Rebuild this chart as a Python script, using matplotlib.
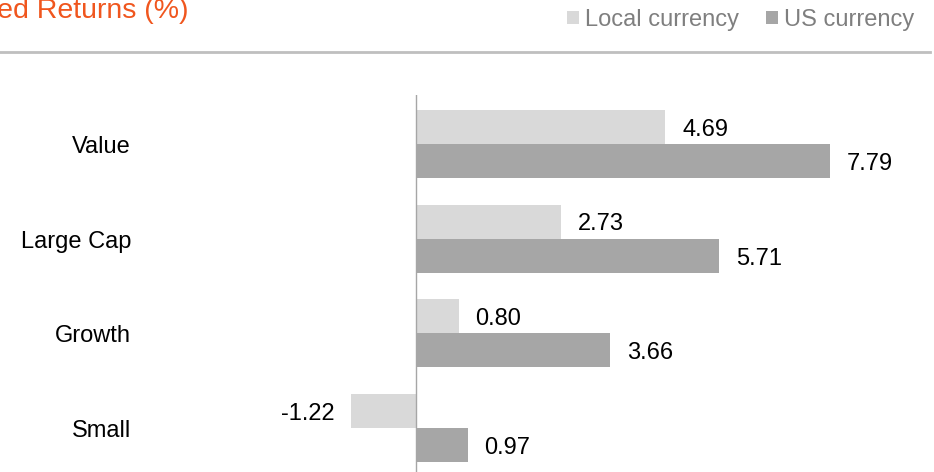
import numpy as np
import matplotlib.pyplot as plt
from matplotlib.lines import Line2D

plt.rcParams['font.family'] = ['Liberation Sans', 'DejaVu Sans']

categories = ['Value', 'Large Cap', 'Growth', 'Small']
local_ccy = [4.69, 2.73, 0.80, -1.22]
us_ccy = [7.79, 5.71, 3.66, 0.97]
series_names = ['Local currency', 'US currency']

W, H = 934, 472
fig = plt.figure(figsize=(W / 100, H / 100), dpi=100)

# axes spans full width, from y=95px down to the bottom
ax = fig.add_axes([0, 0, 1, (H - 95) / H])
px = 53.14  # pixels per unit
zero_px = 416
ax.set_xlim(-zero_px / px, (W - zero_px) / px)
ax.set_ylim(3.465, -0.518)
ax.axis('off')

y = np.arange(len(categories))
bh = 0.36
dy = 0.03  # small downward nudge for text
b1 = ax.barh(y - bh / 2, local_ccy, height=bh, color='#D9D9D9', label=series_names[0])
b2 = ax.barh(y + bh / 2, us_ccy, height=bh, color='#A6A6A6', label=series_names[1])
ax.axvline(0, color='#A6A6A6', lw=1)

off = 17 / px
for yy, v in zip(y - bh / 2, local_ccy):
    ax.text(v + off if v >= 0 else v - off, yy + dy, f'{v:.2f}',
            ha='left' if v >= 0 else 'right', va='center', fontsize=17, color='black')
for yy, v in zip(y + bh / 2, us_ccy):
    ax.text(v + off if v >= 0 else v - off, yy + dy, f'{v:.2f}',
            ha='left' if v >= 0 else 'right', va='center', fontsize=17, color='black')

for yy, c in zip(y, categories):
    ax.text((131 - zero_px) / px, yy + dy, c, ha='right', va='center', fontsize=17)

# title (cut at the left edge) and separator
fig.text(188 / W, 1 - 17.5 / H, 'Annualized Returns (%)', ha='right', va='baseline',
         fontsize=20.5, color='#F0561E')
fig.add_artist(Line2D([0, 930 / W], [1 - 52 / H, 1 - 52 / H], color='#BFBFBF', lw=2))

fig.legend(handles=[b1, b2], loc='center right', bbox_to_anchor=(914 / W, 1 - 20 / H),
           ncol=2, frameon=False, fontsize=17, labelcolor='#7F7F7F',
           handlelength=0.5, handleheight=0.5, handletextpad=0.25,
           columnspacing=1.15, borderaxespad=0, borderpad=0)

fig.savefig('out.png', dpi=100)
